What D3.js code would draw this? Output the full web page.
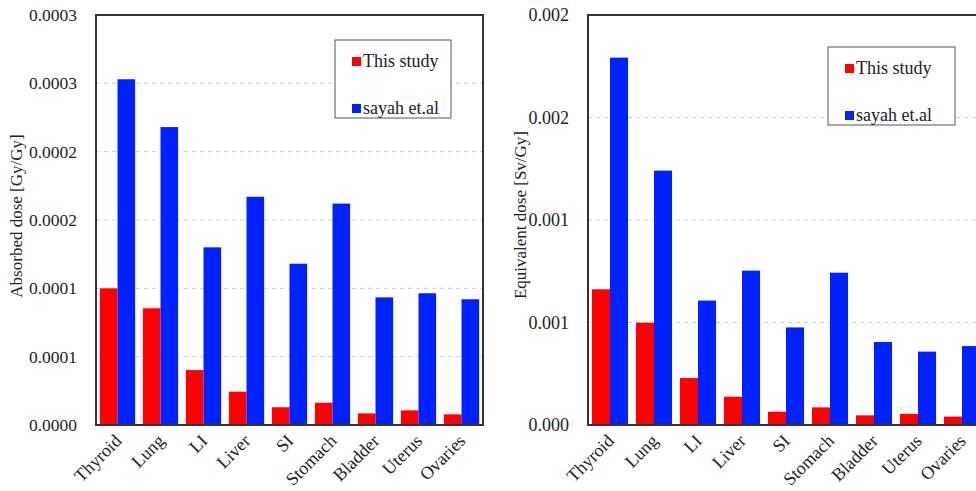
<!DOCTYPE html>
<html><head><meta charset="utf-8">
<script src="https://cdn.jsdelivr.net/npm/d3@7"></script>
<style>body{margin:0;background:#fff;overflow:hidden}svg{display:block}svg text{font-family:'Liberation Serif','Tinos','Times New Roman','DejaVu Serif',serif !important;fill:#222}</style>
</head><body><svg id="c" width="976" height="491"></svg>
<script>
const categories = ["Thyroid","Lung","LI","Liver","SI","Stomach","Bladder","Uterus","Ovaries"];
const seriesNames = ["This study","sayah et.al"];
const colors = ["#ff0000","#0022ff"];
// Absorbed dose [Gy/Gy]
const absorbedThisStudy = [0.000100,0.0000854,0.0000402,0.0000244,0.0000130,0.0000163,0.0000085,0.0000107,0.0000078];
const absorbedSayah = [0.000253,0.000218,0.000130,0.000167,0.000118,0.000162,0.0000934,0.0000964,0.0000920];
const absorbedTicks = [0,0.00005,0.0001,0.00015,0.0002,0.00025,0.0003];
const absorbedTickLabels = ["0.0000","0.0001","0.0001","0.0002","0.0002","0.0003","0.0003"];
// Equivalent dose [Sv/Gy]
const equivThisStudy = [0.000662,0.000499,0.000229,0.000138,0.000065,0.000086,0.000047,0.000054,0.000041];
const equivSayah = [0.001792,0.001241,0.000607,0.000753,0.000476,0.000743,0.000405,0.000358,0.000385];
const equivTicks = [0,0.0005,0.001,0.0015,0.002];
const equivTickLabels = ["0.000","0.001","0.001","0.002","0.002"];

const FONT = "'Liberation Serif','Tinos','Times New Roman','DejaVu Serif',serif";
const svg = d3.select("#c");

function panel(cfg){
  const g = svg.append("g");
  const x = d3.scaleBand().domain(categories).range([cfg.x0,cfg.x1]).paddingInner(0).paddingOuter(0);
  const inner = d3.scaleBand().domain(seriesNames).range([0,x.bandwidth()]).paddingInner(0).paddingOuter(0.22);
  const y = d3.scaleLinear().domain([0,cfg.max]).range([cfg.y1,cfg.y0]);
  g.append("g").selectAll("line").data(cfg.ticks.slice(1,-1)).join("line")
    .attr("x1",cfg.x0).attr("x2",cfg.x1).attr("y1",d=>y(d)).attr("y2",d=>y(d))
    .attr("stroke","#d0d0d0").attr("stroke-width",1).attr("stroke-dasharray","4,4");
  const data = categories.map((c,i)=>({c, vals:[cfg.s1[i],cfg.s2[i]]}));
  const grp = g.append("g").selectAll("g").data(data).join("g").attr("transform",d=>`translate(${x(d.c)},0)`);
  grp.selectAll("rect").data(d=>d.vals.map((v,k)=>({k,v}))).join("rect")
    .attr("x",d=>inner(seriesNames[d.k])).attr("width",inner.bandwidth())
    .attr("y",d=>y(d.v)).attr("height",d=>y(0)-y(d.v)).attr("fill",d=>colors[d.k]);
  g.append("rect").attr("x",cfg.x0).attr("y",cfg.y0).attr("width",cfg.x1-cfg.x0).attr("height",cfg.y1-cfg.y0)
    .attr("fill","none").attr("stroke","#333").attr("stroke-width",2);
  const ya = d3.axisLeft(y).tickValues(cfg.ticks).tickSize(0).tickPadding(19)
    .tickFormat((d,i)=>cfg.tickLabels[i]);
  const yg = g.append("g").attr("transform",`translate(${cfg.x0},0)`).call(ya).attr("font-family",FONT);
  yg.select(".domain").remove();
  yg.selectAll("text").style("font-size",cfg.tickSize+"px").attr("fill","#222");
  const xa = d3.axisBottom(x).tickSize(0).tickPadding(0);
  const xg = g.append("g").attr("transform",`translate(0,${cfg.y1})`).call(xa).attr("font-family",FONT);
  xg.select(".domain").remove();
  xg.selectAll("text").style("font-size","18px").attr("fill","#222")
    .attr("text-anchor","end").attr("dy",0).attr("y",0)
    .attr("transform","translate(5,17) rotate(-45)");
  g.append("text").attr("transform",`translate(${cfg.titleX},${cfg.titleY}) rotate(-90)`)
    .attr("text-anchor","middle").style("font-size","17px").text(cfg.title);
  const lg = g.append("g").attr("transform",`translate(${cfg.lx},${cfg.ly})`);
  lg.append("rect").attr("width",cfg.lw).attr("height",78).attr("fill","#fff").attr("stroke","#555").attr("stroke-width",1);
  seriesNames.forEach((n,k)=>{
    lg.append("rect").attr("x",17).attr("y",17+k*47).attr("width",9).attr("height",9).attr("fill",colors[k]);
    lg.append("text").attr("x",28).attr("y",27+k*47).style("font-size","18px").text(n);
  });
}

panel({x0:96,x1:483,y0:15,y1:425,max:0.0003,ticks:absorbedTicks,tickLabels:absorbedTickLabels,tickSize:17.5,
  s1:absorbedThisStudy,s2:absorbedSayah,title:"Absorbed dose [Gy/Gy]",titleX:22,titleY:216,lx:335,ly:40,lw:116});
panel({x0:588,x1:984,y0:15,y1:425,max:0.002,ticks:equivTicks,tickLabels:equivTickLabels,tickSize:18,
  s1:equivThisStudy,s2:equivSayah,title:"Equivalent dose [Sv/Gy]",titleX:526,titleY:215,lx:828,ly:47,lw:127});
</script></body></html>
